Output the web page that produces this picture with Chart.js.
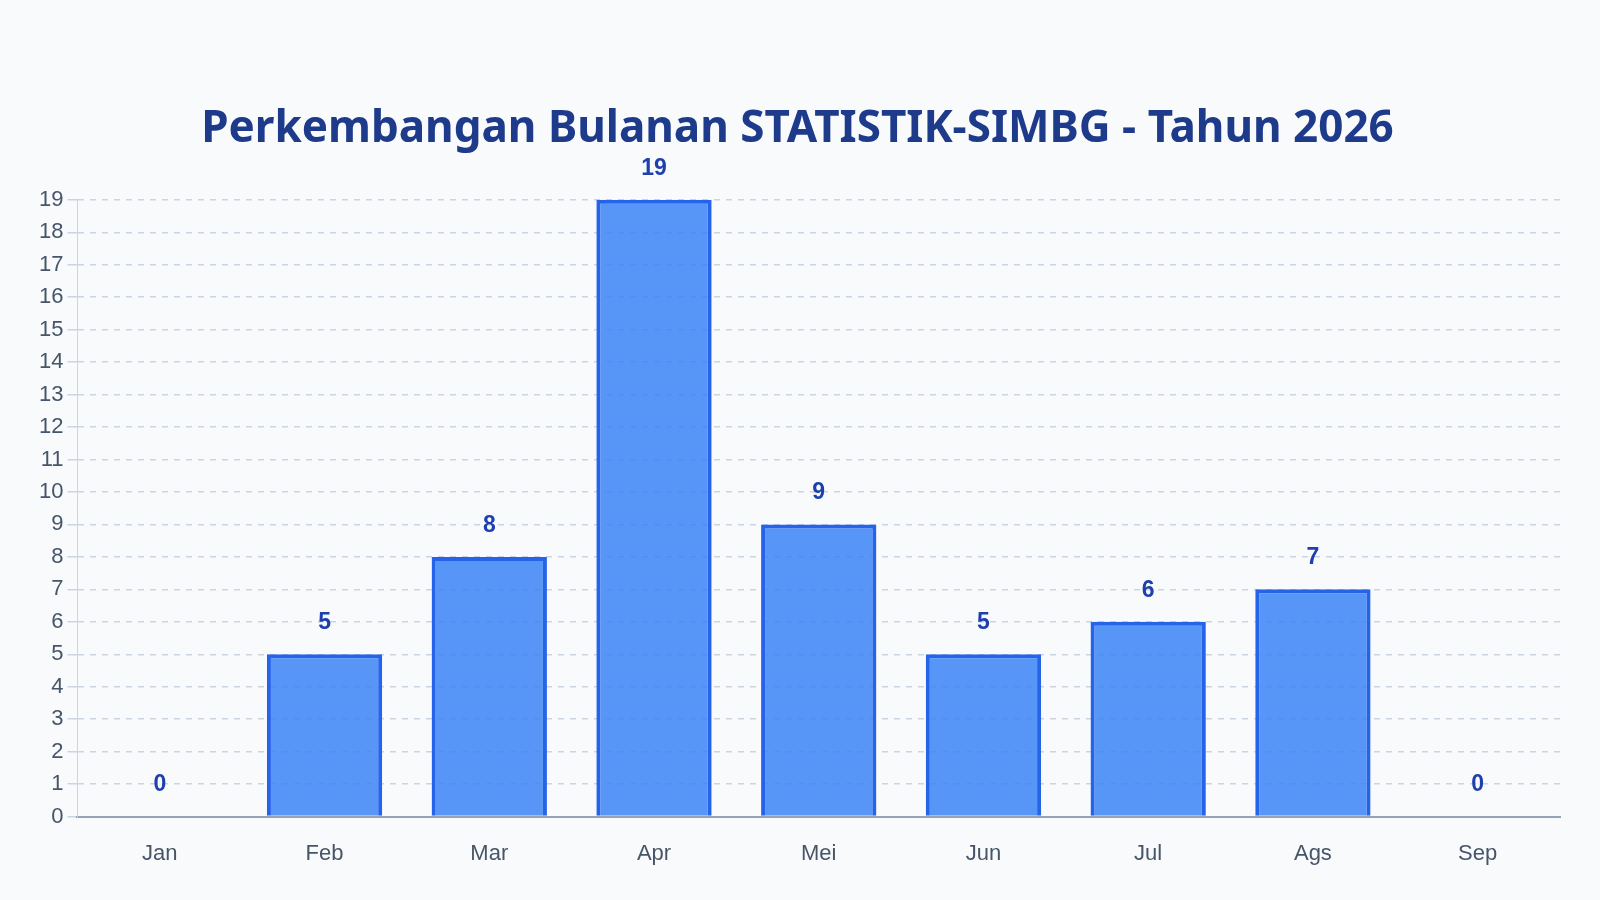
<!DOCTYPE html>
<html><head><meta charset="utf-8">
<script src="https://cdn.jsdelivr.net/npm/chart.js@4"></script>
<style>html,body{margin:0;background:#f8fafc;}#w{width:1600px;height:900px;}</style>
</head><body><div id="w"><canvas id="c"></canvas></div>
<script>
const categories = ["Jan","Feb","Mar","Apr","Mei","Jun","Jul","Ags","Sep"];
const values = [0,5,8,19,9,5,6,7,0];
const titleText = "Perkembangan Bulanan STATISTIK-SIMBG - Tahun 2026";

const labelPlugin = {
  id:'lbl',
  afterDatasetsDraw(chart){
    const ctx = chart.ctx, meta = chart.getDatasetMeta(0);
    ctx.save();
    ctx.font = "bold 23px 'Liberation Sans', Arial";
    ctx.fillStyle = "#1e40af";
    ctx.textAlign = "center"; ctx.textBaseline = "bottom";
    meta.data.forEach((b,i)=>{ ctx.fillText(String(values[i]), b.x, b.y - 20); });
    ctx.restore();
  }
};

new Chart(document.getElementById('c'), {
  type:'bar',
  data:{labels:categories, datasets:[{data:values, backgroundColor:'rgba(59,130,246,0.85)', borderColor:'#2563eb', borderWidth:4, barPercentage:0.7, categoryPercentage:1.0}]},
  options:{
    responsive:true, maintainAspectRatio:false, animation:false,
    layout:{padding:{top:103,right:40,left:35,bottom:17}},
    plugins:{legend:{display:false}, tooltip:{enabled:false},
      title:{display:true, text:titleText, color:'#1e3a8a', font:{family:"'Noto Sans'", size:44, weight:'bold'}, padding:{top:0,bottom:44}}},
    scales:{
      x:{grid:{display:false}, border:{color:'#94a3b8', width:2}, ticks:{color:'#475569', font:{family:"'Liberation Sans'", size:22}, padding:16}},
      y:{min:0,max:19, ticks:{stepSize:1, color:'#475569', font:{family:"'Liberation Sans'", size:22}, padding:4},
        grid:{color:'#cbd5e1', lineWidth:1.5, tickLength:10}, border:{dash:[6,6], display:true, color:'#cbd5e1'}}
    }
  },
  plugins:[labelPlugin]
});
</script></body></html>
